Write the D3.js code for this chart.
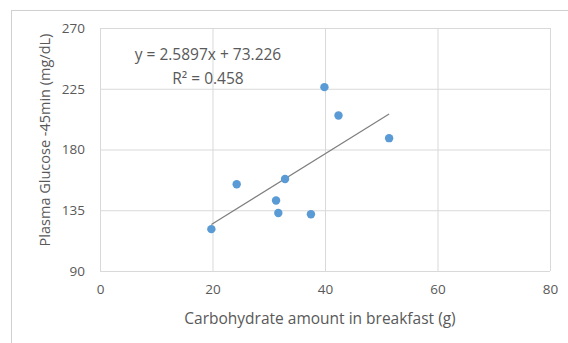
<!DOCTYPE html>
<html>
<head>
<meta charset="utf-8">
<script src="https://cdn.jsdelivr.net/npm/d3@7"></script>
<style>
  body { margin: 0; background: #fff; }
  svg text { font-family: "Open Sans", "Liberation Sans", sans-serif; fill: #595959; }
</style>
</head>
<body>
<div id="chart"></div>
<script>
// Canvas size
const width = 568;
const height = 343;

// Data
const carbs = [19.8, 24.3, 32.9, 31.3, 31.7, 37.5, 39.9, 42.4, 51.4];
const glucose = [121, 154.3, 158.2, 142.2, 133, 132, 226.2, 205.2, 188.4];
const xTicks = [0, 20, 40, 60, 80];
const yTicks = [90, 135, 180, 225, 270];
const trend = [2.5897, 73.226]; // slope, intercept
const trendLabels = ["y = 2.5897x + 73.226", "R² = 0.458"];

const margin = {top: 28, right: 18, bottom: 72, left: 100};

const svg = d3.select("#chart").append("svg")
    .attr("width", width)
    .attr("height", height);

// chart frame (goes off the page on the right and bottom)
svg.append("rect")
    .attr("x", 11.5).attr("y", 10.5)
    .attr("width", width).attr("height", height)
    .style("fill", "none")
    .style("stroke", "#d0d0d0");

const x = d3.scaleLinear().domain([0, 80]).range([margin.left, width - margin.right]);
const y = d3.scaleLinear().domain([90, 270]).range([height - margin.bottom, margin.top]);

// gridlines
svg.append("g")
    .attr("transform", `translate(0,${height - margin.bottom})`)
    .call(d3.axisBottom(x).tickValues(xTicks).tickSize(-(height - margin.top - margin.bottom)).tickFormat(""))
    .call(g => g.select(".domain").remove())
    .call(g => g.selectAll("line").style("stroke", "#d9d9d9"));

svg.append("g")
    .attr("transform", `translate(${margin.left},0)`)
    .call(d3.axisLeft(y).tickValues(yTicks).tickSize(-(width - margin.left - margin.right)).tickFormat(""))
    .call(g => g.select(".domain").remove())
    .call(g => g.selectAll("line").style("stroke", "#d9d9d9"));

// tick labels
svg.append("g")
    .attr("transform", `translate(0,${height - margin.bottom})`)
    .call(d3.axisBottom(x).tickValues(xTicks).tickSize(0).tickPadding(13))
    .call(g => g.select(".domain").remove())
    .call(g => g.selectAll("text").style("font-size", "13.5px").style("fill", "#595959")
        .style("font-family", "'Open Sans', sans-serif"));

svg.append("g")
    .attr("transform", `translate(${margin.left},0)`)
    .call(d3.axisLeft(y).tickValues(yTicks).tickSize(0).tickPadding(15))
    .call(g => g.select(".domain").remove())
    .call(g => g.selectAll("text").style("font-size", "13.5px").style("fill", "#595959")
        .style("font-family", "'Open Sans', sans-serif"));

// trend line over the data range
const xExt = d3.extent(carbs);
svg.append("line")
    .attr("x1", x(xExt[0])).attr("y1", y(trend[0] * xExt[0] + trend[1]))
    .attr("x2", x(xExt[1])).attr("y2", y(trend[0] * xExt[1] + trend[1]))
    .style("stroke", "#7f7f7f")
    .style("stroke-width", 1.2);

// points
svg.selectAll("circle")
    .data(carbs)
    .enter().append("circle")
    .attr("cx", d => x(d))
    .attr("cy", (d, i) => y(glucose[i]))
    .attr("r", 4.2)
    .style("fill", "#5b9bd5");

// equation label
svg.selectAll(".eq")
    .data(trendLabels)
    .enter().append("text")
    .attr("class", "eq")
    .attr("x", 208)
    .attr("y", (d, i) => 60 + i * 24)
    .attr("text-anchor", "middle")
    .style("font-size", "15.5px")
    .text(d => d);

// axis titles
svg.append("text")
    .attr("x", 320)
    .attr("y", 323.5)
    .attr("text-anchor", "middle")
    .style("font-size", "15.5px")
    .text("Carbohydrate amount in breakfast (g)");

svg.append("text")
    .attr("transform", "translate(50,140) rotate(-90)")
    .attr("text-anchor", "middle")
    .style("font-size", "14.5px")
    .text("Plasma Glucose -45min (mg/dL)");
</script>
</body>
</html>
